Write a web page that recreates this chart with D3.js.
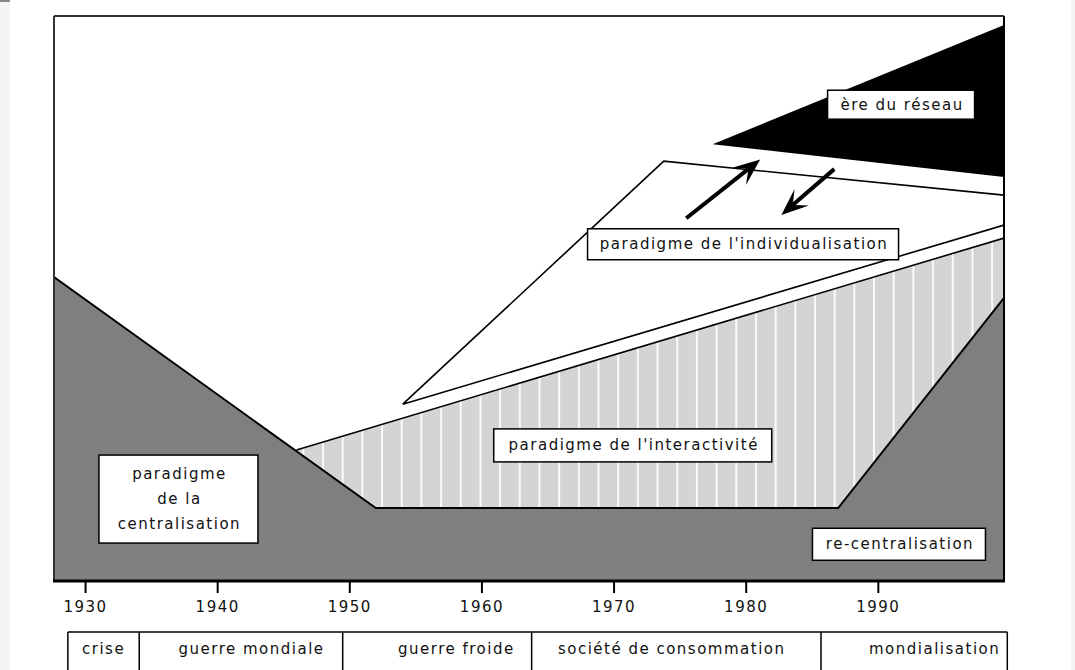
<!DOCTYPE html>
<html>
<head>
<meta charset="utf-8">
<script src="https://cdn.jsdelivr.net/npm/d3@7"></script>
<style>
body { margin: 0; background: #fff; }
text { font-family: "DejaVu Sans", sans-serif; font-size: 15px; letter-spacing: 1.5px; fill: #111; }
</style>
</head>
<body>
<svg id="chart" width="1075" height="670"></svg>
<script>
// axis and period table
var tickYears = [1930, 1940, 1950, 1960, 1970, 1980, 1990];
var periodNames = ["crise", "guerre mondiale", "guerre froide", "société de consommation", "mondialisation"];
var periodBreaks = [1928.7, 1934.1, 1949.5, 1963.8, 1985.7, 1999.8];
var periodLabelAt = [1931.4, 1942.6, 1958.1, 1974.4, 1994.3];

// shapes, as [year, level] with level 0 at the axis and 100 at the top
var centralisation = [[1927.65, 0], [1927.65, 53.8], [1952.0, 12.9], [1987.0, 12.9], [1999.55, 50.1], [1999.55, 0]];
var interactivite = [[1946.0, 23.2], [1999.55, 60.7], [1999.55, 50.1], [1987.0, 12.9], [1952.0, 12.9]];
var individualisation = [[1954.05, 31.3], [1973.8, 74.3], [1999.55, 68.3], [1999.55, 63.0]];
var reseau = [[1977.5, 77.3], [1999.55, 98.4], [1999.55, 71.5]];
var arrows = [
  [[1975.5, 64.2], [1981.1, 74.6]],
  [[1986.7, 72.9], [1982.7, 64.8]]
];

// labels: text lines, centre [year, level], box size
var labels = [
  { lines: ["ère du réseau"], at: [1991.76, 84.3], w: 147, h: 29 },
  { lines: ["paradigme de l'individualisation"], at: [1979.8, 59.6], w: 311, h: 31 },
  { lines: ["paradigme de l'interactivité"], at: [1971.45, 24.0], w: 278, h: 33 },
  { lines: ["paradigme", "de la", "centralisation"], at: [1937.07, 14.5], w: 159, h: 88 },
  { lines: ["re-centralisation"], at: [1991.6, 6.5], w: 173, h: 32 }
];

var svg = d3.select("#chart");

var plotLeft = 54, plotRight = 1004, plotTop = 16, plotBottom = 581;

var x = d3.scaleLinear()
  .domain([1927.65, 1999.55])
  .range([plotLeft, plotRight]);

var y = d3.scaleLinear()
  .domain([0, 100])
  .range([plotBottom, plotTop]);

// page side strips
svg.append("rect").attr("x", 0).attr("y", 0).attr("width", 10).attr("height", 670).attr("fill", "#f5f5f5");
svg.append("rect").attr("x", 0).attr("y", 0).attr("width", 10).attr("height", 2).attr("fill", "#888");
svg.append("rect").attr("x", 1071).attr("y", 0).attr("width", 4).attr("height", 670).attr("fill", "#f5f5f5");

var defs = svg.append("defs");
defs.append("clipPath").attr("id", "plotClip")
  .append("rect")
  .attr("x", plotLeft).attr("y", plotTop)
  .attr("width", plotRight - plotLeft).attr("height", plotBottom - plotTop);

var stripes = defs.append("pattern")
  .attr("id", "stripes")
  .attr("patternUnits", "userSpaceOnUse")
  .attr("x", 322).attr("y", 0)
  .attr("width", 19.68).attr("height", 10);
stripes.append("rect").attr("width", 19.68).attr("height", 10).attr("fill", "#d4d4d4");
stripes.append("rect").attr("x", 0).attr("width", 2).attr("height", 10).attr("fill", "#fafafa");

var line = d3.line()
  .x(function(d) { return x(d[0]); })
  .y(function(d) { return y(d[1]); });

var plot = svg.append("g").attr("clip-path", "url(#plotClip)");

plot.append("rect")
  .attr("x", plotLeft).attr("y", plotTop)
  .attr("width", plotRight - plotLeft).attr("height", plotBottom - plotTop)
  .attr("fill", "#fff");

// light striped area
plot.append("path")
  .attr("d", line(interactivite) + "Z")
  .attr("fill", "url(#stripes)");
plot.append("path")
  .attr("d", line(interactivite.slice(0, 2)))
  .attr("fill", "none")
  .attr("stroke", "#000")
  .attr("stroke-width", 1.6);

// dark centralisation area
plot.append("path")
  .attr("d", line(centralisation) + "Z")
  .attr("fill", "#7f7f7f");
plot.append("path")
  .attr("d", line(centralisation.slice(1, 5)))
  .attr("fill", "none")
  .attr("stroke", "#000")
  .attr("stroke-width", 2);

// individualisation triangle
plot.append("path")
  .attr("d", line(individualisation) + "Z")
  .attr("fill", "#fff")
  .attr("stroke", "#000")
  .attr("stroke-width", 1.6);

// network era
plot.append("path")
  .attr("d", line(reseau) + "Z")
  .attr("fill", "#000");

// arrows
arrows.forEach(function(a) {
  var x0 = x(a[0][0]), y0 = y(a[0][1]), x1 = x(a[1][0]), y1 = y(a[1][1]);
  var ang = Math.atan2(y1 - y0, x1 - x0);
  var len = 27, half = 11, notch = 15;
  var ux = Math.cos(ang), uy = Math.sin(ang);
  var bx = x1 - ux * len, by = y1 - uy * len;
  var nx = x1 - ux * notch, ny = y1 - uy * notch;
  plot.append("line")
    .attr("x1", x0).attr("y1", y0)
    .attr("x2", nx).attr("y2", ny)
    .attr("stroke", "#000")
    .attr("stroke-width", 4);
  plot.append("path")
    .attr("d", "M" + x1 + "," + y1 +
      "L" + (bx - uy * half) + "," + (by + ux * half) +
      "L" + nx + "," + ny +
      "L" + (bx + uy * half) + "," + (by - ux * half) + "Z")
    .attr("fill", "#000");
});

// frame
svg.append("line").attr("x1", plotLeft).attr("y1", plotTop).attr("x2", plotRight).attr("y2", plotTop)
  .attr("stroke", "#333").attr("stroke-width", 2);
svg.append("line").attr("x1", plotLeft).attr("y1", plotTop).attr("x2", plotLeft).attr("y2", plotBottom)
  .attr("stroke", "#333").attr("stroke-width", 2);
svg.append("line").attr("x1", plotRight).attr("y1", plotTop).attr("x2", plotRight).attr("y2", plotBottom)
  .attr("stroke", "#000").attr("stroke-width", 2);

// labels
labels.forEach(function(l) {
  var cx = x(l.at[0]), cy = y(l.at[1]);
  svg.append("rect")
    .attr("x", cx - l.w / 2).attr("y", cy - l.h / 2)
    .attr("width", l.w).attr("height", l.h)
    .attr("fill", "#fff")
    .attr("stroke", "#000")
    .attr("stroke-width", 1.5);
  var lh = 25;
  l.lines.forEach(function(t, i) {
    svg.append("text")
      .attr("x", cx + 1)
      .attr("y", cy + (i - (l.lines.length - 1) / 2) * lh)
      .attr("text-anchor", "middle")
      .attr("dominant-baseline", "central")
      .text(t);
  });
});

// x axis
var axis = svg.append("g")
  .attr("transform", "translate(0," + plotBottom + ")")
  .call(d3.axisBottom(x).tickValues(tickYears).tickFormat(d3.format("d")).tickSize(12).tickPadding(8));
axis.select(".domain").remove();
axis.selectAll(".tick line").attr("stroke", "#000").attr("stroke-width", 2);
axis.selectAll(".tick text")
  .style("font-family", "DejaVu Sans, sans-serif")
  .style("font-size", "15px")
  .style("letter-spacing", "1.5px")
  .attr("fill", "#222");
svg.append("line").attr("x1", plotLeft - 1).attr("y1", plotBottom).attr("x2", plotRight + 1).attr("y2", plotBottom)
  .attr("stroke", "#000").attr("stroke-width", 3);

// period table
var tableTop = 632;
svg.append("line")
  .attr("x1", x(periodBreaks[0])).attr("y1", tableTop)
  .attr("x2", x(periodBreaks[periodBreaks.length - 1])).attr("y2", tableTop)
  .attr("stroke", "#000").attr("stroke-width", 1.5);
periodBreaks.forEach(function(b) {
  svg.append("line")
    .attr("x1", x(b)).attr("y1", tableTop)
    .attr("x2", x(b)).attr("y2", 672)
    .attr("stroke", "#000").attr("stroke-width", 1.5);
});
periodNames.forEach(function(n, i) {
  svg.append("text")
    .attr("x", x(periodLabelAt[i]))
    .attr("y", 649)
    .attr("text-anchor", "middle")
    .attr("dominant-baseline", "central")
    .text(n);
});
</script>
</body>
</html>
